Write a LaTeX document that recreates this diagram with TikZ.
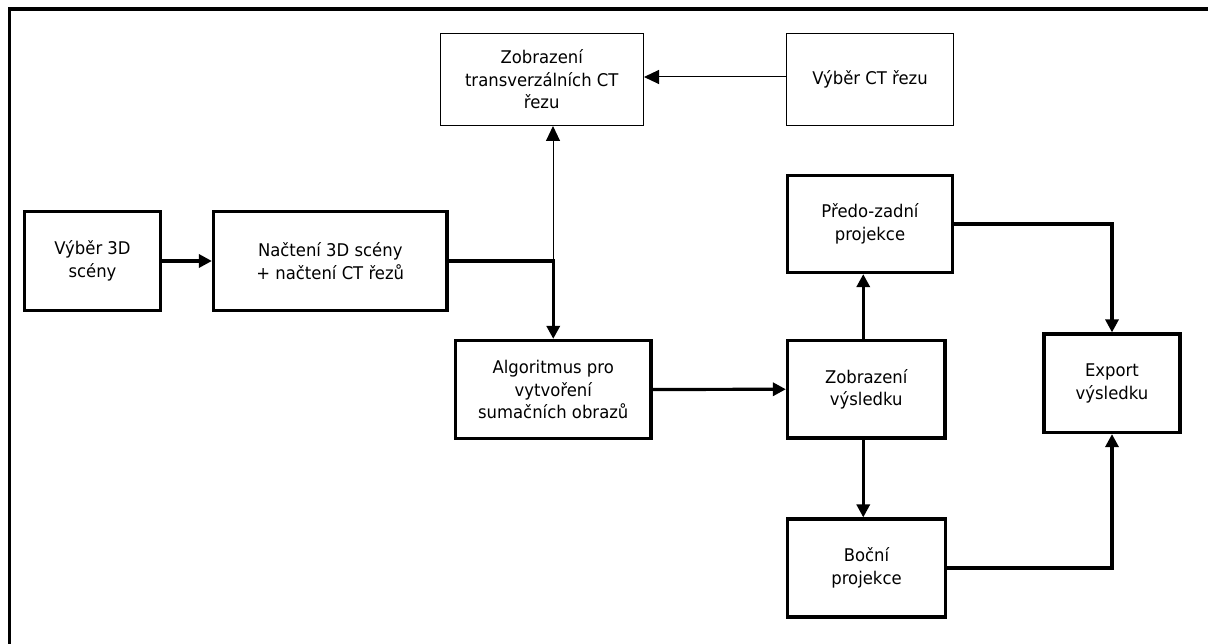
\documentclass[tikz,border=0pt]{standalone}
\usepackage{fontspec}
\setmainfont{DejaVu Sans}[FakeStretch=0.94]
\usetikzlibrary{arrows.meta}
\begin{document}
\begin{tikzpicture}[x=1pt,y=-1pt,
  box/.style={draw, rectangle, align=center, inner sep=0pt,
    font=\fontsize{17.5}{22.5}\selectfont},
  thickbox/.style={box, line width=3.2pt},
  thinbox/.style={box, line width=1pt},
  conn/.style={line width=3.2pt, -{Triangle[length=13pt,width=13pt]}},
  thinconn/.style={line width=1pt, -{Triangle[length=15pt,width=14pt]}}]
\useasboundingbox (0,0) rectangle (1208,644);
\draw[line width=3.5pt] (9.5,644) -- (9.5,9) -- (1208,9);

\node[thickbox, minimum width=136pt, minimum height=99pt] (v3d) at (92.5,261) {Výběr 3D\\scény};
\node[thickbox, minimum width=233.5pt, minimum height=99pt] (nac) at (330.25,261) {Načtení 3D scény\\+ načtení CT řezů};
\node[thickbox, minimum width=195.5pt, minimum height=98pt] (alg) at (553.25,389.5) {Algoritmus pro\\vytvoření\\sumačních obrazů};
\node[thickbox, minimum width=157.5pt, minimum height=97.5pt] (zv) at (866.25,389.25) {Zobrazení\\výsledku};
\node[thickbox, minimum width=165pt, minimum height=97pt] (pz) at (870,224) {Předo-zadní\\projekce};
\node[thickbox, minimum width=158pt, minimum height=98pt] (boc) at (866.5,568) {Boční\\projekce};
\node[thickbox, minimum width=136pt, minimum height=98.5pt] (exp) at (1112,383.25) {Export\\výsledku};
\node[thinbox, minimum width=203.5pt, minimum height=92pt] (zt) at (541.75,79.5) {Zobrazení\\transverzálních CT\\řezu};
\node[thinbox, minimum width=167pt, minimum height=92pt] (vct) at (870,79.5) {Výběr CT řezu};

\coordinate (j) at (553,261);
\draw[conn] (v3d.east) -- (nac.west);
\draw[conn] (nac.east) -| (alg.north);
\draw[thinconn] (j) -- (j |- zt.south);
\draw[thinconn] ([yshift=2.5pt]vct.west) -- ([yshift=2.5pt]zt.east);
\draw[conn] (alg.east) -- (zv.west);
\draw[conn] ([xshift=-3pt]zv.north) -- ([xshift=-3pt]zv.north |- pz.south);
\draw[conn] ([xshift=-3pt]zv.south) -- ([xshift=-3pt]zv.south |- boc.north);
\draw[conn] (pz.east) -| (exp.north);
\draw[conn] (boc.east) -| (exp.south);
\end{tikzpicture}
\end{document}
